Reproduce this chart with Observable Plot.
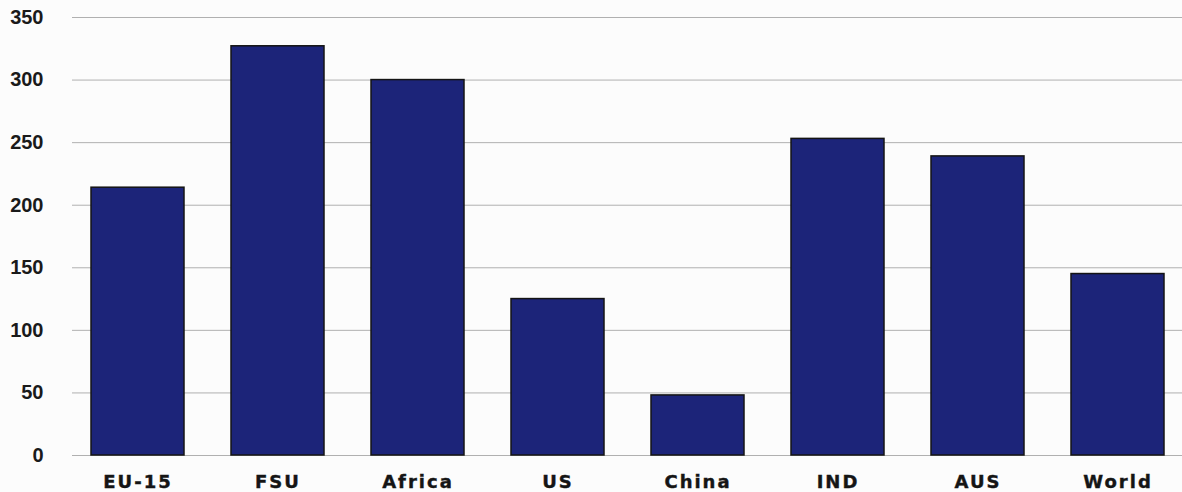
<!DOCTYPE html>
<html>
<head>
<meta charset="utf-8">
<script src="https://cdn.jsdelivr.net/npm/d3@7"></script>
<script src="https://cdn.jsdelivr.net/npm/@observablehq/plot@0.6"></script>
<style>
  html, body { margin: 0; padding: 0; background: #fcfcfc; }
  #chart svg { display: block; background: #fcfcfc; }
  .xax text { font-family: "DejaVu Sans", sans-serif; font-weight: bold; font-size: 18px; letter-spacing: 2px; fill: #151515; stroke: #151515; stroke-width: 0.4px; }
  .yax text { font-family: "Liberation Sans", Arial, sans-serif; font-weight: bold; font-size: 20px; fill: #1a1a1a; }
</style>
</head>
<body>
<div id="chart"></div>
<script>
const regions = ["EU-15", "FSU", "Africa", "US", "China", "IND", "AUS", "World"];
const values = [214, 327, 300, 125, 48, 253, 239, 145];
const yTicks = [0, 50, 100, 150, 200, 250, 300, 350];

const data = regions.map((r, i) => ({region: r, value: values[i]}));

const chart = Plot.plot({
  width: 1182,
  height: 492,
  marginLeft: 72,
  marginRight: 0,
  marginTop: 17,
  marginBottom: 37,
  style: {background: "#fcfcfc", overflow: "visible"},
  x: {domain: regions, paddingInner: 0.336, paddingOuter: 0.13, label: null},
  y: {domain: [0, 350], label: null},
  marks: [
    Plot.ruleY(yTicks, {stroke: "#b0b0b0", strokeWidth: 1}),
    Plot.barY(data, {x: "region", y: "value", fill: "#1c2479", stroke: "#141414", strokeWidth: 1.5}),
    Plot.axisX({tickSize: 0, tickPadding: 20, className: "xax", fontSize: 18}),
    Plot.axisY({ticks: yTicks, tickSize: 0, tickPadding: 29, className: "yax", fontSize: 20})
  ]
});
document.getElementById("chart").appendChild(chart);
</script>
</body>
</html>
